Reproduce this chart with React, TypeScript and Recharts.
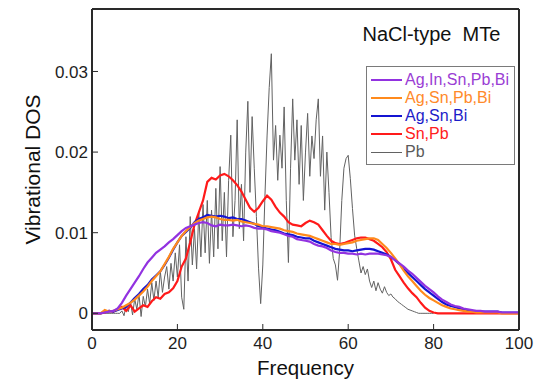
import React from 'react';
import { LineChart, Line, XAxis, YAxis, Legend, Label } from 'recharts';

const W = 543;
const H = 381;
const FONT = '"Liberation Sans", Arial, Helvetica, sans-serif';

// frequency grid for the smoothed alloy curves (step 1)
const freq = Array.from({ length: 101 }, (_, i) => i);

const agInSnPbBi = [
  0, 0, 0, 0.0001, 0.0002, 0.0003, 0.0006, 0.0013, 0.0022, 0.0030,
  0.0038, 0.0046, 0.0055, 0.0063, 0.0069, 0.0075, 0.0079, 0.0083, 0.0088, 0.0092,
  0.0097, 0.0102, 0.0106, 0.0108, 0.0110, 0.0112, 0.0113, 0.0112, 0.0109, 0.0108,
  0.0110, 0.0109, 0.0109, 0.0110, 0.0109, 0.0108, 0.0109, 0.0108, 0.0106, 0.0105,
  0.0105, 0.0104, 0.0102, 0.0101, 0.0100, 0.0098, 0.0096, 0.0095, 0.0092, 0.0091,
  0.0090, 0.0089, 0.0086, 0.0084, 0.0083, 0.0081, 0.0078, 0.0076, 0.0075, 0.0075,
  0.0074, 0.0074, 0.0073, 0.0074, 0.0073, 0.0074, 0.0074, 0.0074, 0.0073, 0.0072,
  0.0070, 0.0066, 0.0062, 0.0058, 0.0053, 0.0049, 0.0044, 0.0039, 0.0034, 0.0030,
  0.0026, 0.0021, 0.0017, 0.0014, 0.0011, 0.0009, 0.0008, 0.0006, 0.0005, 0.0004,
  0.0003, 0.0003, 0.0002, 0.0002, 0.0002, 0.0002, 0.0001, 0.0001, 0.0001, 0.0001,
  0.0001,
];

const agSnPbBi = [
  0, 0, 0, 0.0004, 0.0002, 0.0003, 0.0005, 0.0007, 0.0010, 0.0013,
  0.0017, 0.0022, 0.0027, 0.0033, 0.0040, 0.0046, 0.0052, 0.0061, 0.0070, 0.0080,
  0.0088, 0.0096, 0.0102, 0.0107, 0.0112, 0.0115, 0.0117, 0.0119, 0.0120, 0.0119,
  0.0117, 0.0116, 0.0116, 0.0115, 0.0116, 0.0114, 0.0113, 0.0112, 0.0111, 0.0110,
  0.0108, 0.0108, 0.0107, 0.0106, 0.0105, 0.0103, 0.0102, 0.0101, 0.0099, 0.0098,
  0.0097, 0.0096, 0.0094, 0.0092, 0.0090, 0.0088, 0.0086, 0.0086, 0.0085, 0.0086,
  0.0087, 0.0088, 0.0090, 0.0091, 0.0092, 0.0093, 0.0093, 0.0091, 0.0086, 0.0081,
  0.0075, 0.0068, 0.0061, 0.0053, 0.0046, 0.0040, 0.0034, 0.0028, 0.0023, 0.0019,
  0.0016, 0.0013, 0.0010, 0.0008, 0.0006, 0.0005, 0.0004, 0.0003, 0.0002, 0.0002,
  0.0001, 0.0001, 0.0001, 0.0001, 0.0001, 0.0001, 0, 0, 0, 0,
  0,
];

const agSnBi = [
  0, 0, 0, 0.0002, 0.0003, 0.0002, 0.0004, 0.0006, 0.0008, 0.0013,
  0.0019, 0.0024, 0.0030, 0.0035, 0.0042, 0.0047, 0.0052, 0.0060, 0.0069, 0.0079,
  0.0088, 0.0096, 0.0101, 0.0106, 0.0113, 0.0117, 0.0119, 0.0122, 0.0121, 0.0120,
  0.0121, 0.0120, 0.0118, 0.0119, 0.0117, 0.0117, 0.0115, 0.0113, 0.0111, 0.0108,
  0.0107, 0.0105, 0.0104, 0.0103, 0.0101, 0.0099, 0.0098, 0.0097, 0.0095, 0.0094,
  0.0093, 0.0093, 0.0090, 0.0088, 0.0086, 0.0084, 0.0082, 0.0080, 0.0079, 0.0078,
  0.0078, 0.0077, 0.0078, 0.0079, 0.0080, 0.0080, 0.0079, 0.0077, 0.0075, 0.0073,
  0.0070, 0.0066, 0.0061, 0.0055, 0.0050, 0.0045, 0.0040, 0.0035, 0.0030, 0.0026,
  0.0022, 0.0018, 0.0014, 0.0011, 0.0009, 0.0008, 0.0006, 0.0005, 0.0004, 0.0003,
  0.0002, 0.0002, 0.0002, 0.0002, 0.0002, 0.0002, 0.0001, 0.0001, 0.0001, 0.0001,
  0.0001,
];

const snPb = [
  0, 0, 0, 0.0001, 0.0003, 0.0002, 0.0005, 0.0008, 0.0003, 0.0010,
  0.0002, 0.0006, 0.0010, 0.0008, 0.0015, 0.0020, 0.0018, 0.0024, 0.0026, 0.0031,
  0.0040, 0.0058, 0.0068, 0.0088, 0.0110, 0.0125, 0.0140, 0.0163, 0.0168, 0.0166,
  0.0171, 0.0173, 0.0170, 0.0165, 0.0159, 0.0151, 0.0141, 0.0131, 0.0126, 0.0131,
  0.0139, 0.0146, 0.0141, 0.0132, 0.0125, 0.0120, 0.0113, 0.0110, 0.0109, 0.0108,
  0.0112, 0.0115, 0.0113, 0.0110, 0.0103, 0.0096, 0.0090, 0.0087, 0.0086, 0.0087,
  0.0089, 0.0091, 0.0093, 0.0094, 0.0094, 0.0092, 0.0090, 0.0086, 0.0082, 0.0076,
  0.0067, 0.0054, 0.0046, 0.0038, 0.0031, 0.0025, 0.0020, 0.0013, 0.0007, 0.0003,
  0.0001, 0, 0, 0, 0, 0, 0, 0, 0, 0,
  0, 0, 0, 0, 0, 0, 0, 0, 0, 0,
  0,
];

// pure PbTe, raw spectrum (step 0.5, 0..80), two values per unit
const pb = [
  0, 0, 0, 0, 0, 0, 0, 0, 0, 0, 0, 0, 0, 0,
  0.0003, -0.0003, 0.0010, 0.0002, 0.0014, -0.0002,
  0.0018, 0.0005, 0.0024, -0.0004, 0.0021, 0.0008, 0.0030, 0.0012, 0.0038, 0.0016,
  0.0040, 0.0020, 0.0052, 0.0026, 0.0045, 0.0058, 0.0030, 0.0062, 0.0040, 0.0075,
  0.0045, 0.0085, 0.0020, 0.0005, 0.0095, 0.0040, 0.0120, 0.0060, 0.0105, 0.0055,
  0.0125, 0.0070, 0.0135, 0.0075, 0.0140, 0.0062, 0.0128, 0.0070, 0.0155, 0.0080,
  0.0182, 0.0090, 0.0150, 0.0070, 0.0165, 0.0221, 0.0095, 0.0140, 0.0240, 0.0105,
  0.0160, 0.0090, 0.0200, 0.0263, 0.0150, 0.0244, 0.0180, 0.0120, 0.0056, 0.0012,
  0.0060, 0.0145, 0.0220, 0.0280, 0.0322, 0.0190, 0.0233, 0.0165, 0.0221, 0.0180,
  0.0256, 0.0140, 0.0063, 0.0180, 0.0266, 0.0190, 0.0240, 0.0160, 0.0233, 0.0140,
  0.0200, 0.0248, 0.0170, 0.0220, 0.0192, 0.0240, 0.0266, 0.0170, 0.0220, 0.0128,
  0.0200, 0.0150, 0.0094, 0.0068, 0.0060, 0.0041, 0.0078, 0.0140, 0.0180, 0.0192,
  0.0196, 0.0167, 0.0130, 0.0097, 0.0080, 0.0065, 0.0050, 0.0058, 0.0048, 0.0055,
  0.0040, 0.0032, 0.0040, 0.0028, 0.0038, 0.0030, 0.0025, 0.0033, 0.0026, 0.0022,
  0.0024, 0.0020, 0.0018, 0.0015, 0.0013, 0.0011, 0.0009, 0.0007, 0.0005, 0.0004,
  0.0003, 0.0002, 0.0001, 0, 0, 0, 0, 0, 0, 0,
  0,
];
const pbFreq = pb.map((_, i) => i * 0.5);

const xTicks = [0, 20, 40, 60, 80, 100];
const yTicks = [0, 0.01, 0.02, 0.03];

const toPoints = (xs: number[], ys: number[]) => xs.map((f, i) => ({ f, v: ys[i] }));

// legend order (top to bottom)
const series = [
  { name: 'Ag,In,Sn,Pb,Bi', color: '#9232e0', text: '#9a3dd4', width: 2.2, data: toPoints(freq, agInSnPbBi) },
  { name: 'Ag,Sn,Pb,Bi', color: '#ff8a1c', text: '#ff8a2a', width: 2.2, data: toPoints(freq, agSnPbBi) },
  { name: 'Ag,Sn,Bi', color: '#1414d2', text: '#1c1cc8', width: 2.2, data: toPoints(freq, agSnBi) },
  { name: 'Sn,Pb', color: '#ff1a1a', text: '#ff2020', width: 2.2, data: toPoints(freq, snPb) },
  { name: 'Pb', color: '#626262', text: '#5a5a5a', width: 1, data: toPoints(pbFreq, pb) },
];

const fmtY = (v: number) => (v === 0 ? '0' : v.toFixed(2));

const axisLine = { stroke: '#2a2a2a', strokeWidth: 2 };
const tickLine = { stroke: '#2a2a2a', strokeWidth: 1 };
const tickText = { fill: '#1e1e1e', fontSize: 17, fontFamily: FONT };

const YTitle = (props: any) => {
  const vb = props.viewBox || { x: 0, y: 0, width: 0, height: 0 };
  const cx = vb.x + 40;
  const cy = vb.y + vb.height / 2;
  return (
    <text
      x={cx}
      y={cy}
      transform={`rotate(-90 ${cx} ${cy})`}
      textAnchor="middle"
      fill="#111"
      fontSize={21}
      fontFamily={FONT}
    >
      Vibrational DOS
    </text>
  );
};

// legend rows follow the series list, not the draw order
const LegendBox = () => (
  <div
    style={{
      width: 146.5,
      height: 93,
      paddingTop: 4,
      border: '1px solid #7a7a7a',
      background: '#fff',
      fontFamily: FONT,
    }}
  >
    {series.map((s) => (
      <div key={s.name} style={{ display: 'flex', alignItems: 'center', height: 18.1 }}>
        <span
          style={{
            display: 'inline-block',
            width: 31,
            marginLeft: 4,
            borderTop: `${s.width > 1 ? 2 : 1}px solid ${s.color}`,
          }}
        />
        <span style={{ marginLeft: 3, color: s.text, fontSize: 16, lineHeight: '18px' }}>{s.name}</span>
      </div>
    ))}
  </div>
);

export default function App() {
  const drawOrder = [...series].reverse();
  return (
    <div style={{ position: 'absolute', left: 0, top: 0, width: W, height: H, background: '#fff' }}>
      <LineChart width={W} height={H} margin={{ top: 8, right: 23, bottom: 0, left: 0 }}>
        <XAxis
          xAxisId="b"
          type="number"
          dataKey="f"
          domain={[0, 100]}
          ticks={xTicks}
          interval={0}
          allowDataOverflow
          height={51}
          tickSize={-6}
          tickMargin={13}
          axisLine={axisLine}
          tickLine={tickLine}
          tick={tickText}
        >
          <Label value="Frequency" position="insideBottom" offset={6} fill="#111" fontSize={20.5} fontFamily={FONT} />
        </XAxis>
        <XAxis
          xAxisId="t"
          orientation="top"
          type="number"
          domain={[0, 100]}
          ticks={xTicks}
          interval={0}
          height={1}
          tickSize={-6}
          tick={false}
          axisLine={axisLine}
          tickLine={tickLine}
        />
        <YAxis
          yAxisId="l"
          type="number"
          domain={[-0.00207, 0.03775]}
          ticks={yTicks}
          interval={0}
          allowDataOverflow
          width={92}
          tickSize={-6}
          tickMargin={10}
          tickFormatter={fmtY}
          axisLine={axisLine}
          tickLine={tickLine}
          tick={tickText}
        >
          <Label content={YTitle} />
        </YAxis>
        <YAxis
          yAxisId="r"
          orientation="right"
          type="number"
          domain={[-0.00207, 0.03775]}
          ticks={yTicks}
          interval={0}
          width={1}
          tickSize={-6}
          tick={false}
          axisLine={axisLine}
          tickLine={tickLine}
        />
        {drawOrder.map((s) => (
          <Line
            key={s.name}
            xAxisId="b"
            yAxisId="l"
            data={s.data}
            dataKey="v"
            name={s.name}
            type="linear"
            stroke={s.color}
            strokeWidth={s.width}
            dot={false}
            activeDot={false}
            isAnimationActive={false}
          />
        ))}
        <Legend
          layout="vertical"
          align="center"
          verticalAlign="middle"
          content={LegendBox}
          wrapperStyle={{ left: 366, top: 66, width: 'auto', height: 'auto' }}
        />
      </LineChart>
      <svg
        width={W}
        height={H}
        style={{ position: 'absolute', left: 0, top: 0, pointerEvents: 'none' }}
      >
        <text x={362.5} y={40.7} fontSize={20} fontFamily={FONT} fill="#111" style={{ whiteSpace: 'pre' }}>
          {'NaCl-type  MTe'}
        </text>
      </svg>
    </div>
  );
}
